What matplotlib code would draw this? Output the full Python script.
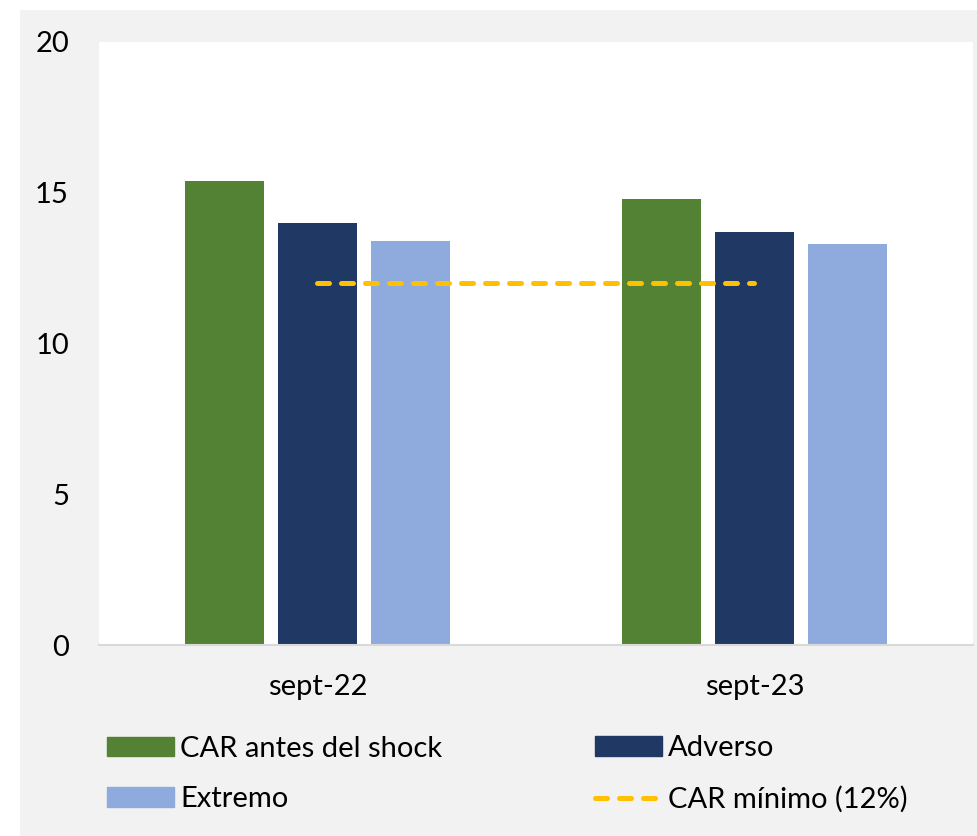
import matplotlib
matplotlib.use("Agg")
import matplotlib.pyplot as plt
from matplotlib.patches import Rectangle, Patch
from matplotlib.lines import Line2D
import numpy as np

plt.rcParams["font.family"] = ["Lato", "DejaVu Sans"]

categorias = ["sept-22", "sept-23"]
car_antes = [15.4, 14.8]
adverso = [14.0, 13.7]
extremo = [13.4, 13.3]
car_minimo = 12

series = ["CAR antes del shock", "Adverso", "Extremo"]
colores = ["#548235", "#203864", "#8faadc"]
amarillo = "#ffc000"
fs = 21

fig = plt.figure(figsize=(9.78, 8.36), dpi=100, facecolor="white")

# fondo gris del gráfico
fig.patches.append(Rectangle((20 / 978, 0), 1, 1 - 10 / 836, transform=fig.transFigure,
                             facecolor="#f2f2f2", edgecolor="none", zorder=-10))

ax = fig.add_axes([99 / 978, 1 - 645 / 836, 874 / 978, 603 / 836])
ax.set_facecolor("white")

x = np.arange(len(categorias))
paso = 0.213
ancho = 0.181
for i, (vals, col) in enumerate(zip([car_antes, adverso, extremo], colores)):
    ax.bar(x + (i - 1) * paso, vals, width=ancho, color=col, zorder=2)

estilo_linea = dict(color=amarillo, lw=3.6, linestyle=(0, (2.4, 2.4)), dash_capstyle="round")
ax.plot(x, [car_minimo] * len(x), zorder=3, **estilo_linea)

ax.set_xlim(-0.5, 1.5)
ax.set_ylim(0, 20)
ax.set_yticks([0, 5, 10, 15, 20])
ax.set_xticks(x)
ax.set_xticklabels(categorias)
ax.tick_params(axis="y", length=0, labelsize=fs, pad=21.6)
ax.tick_params(axis="x", length=0, labelsize=fs, pad=21)
for s in ["top", "left", "right"]:
    ax.spines[s].set_visible(False)
ax.spines["bottom"].set_color("#d9d9d9")
ax.spines["bottom"].set_linewidth(1.5)

ley_kw = dict(loc="center left", frameon=False, fontsize=fs, borderpad=0, borderaxespad=0,
              handlelength=2.31, handleheight=0.65, handletextpad=0.2, labelspacing=0.83)
h1 = [Patch(color=colores[0]), Patch(color=colores[2])]
fig.legend(h1, [series[0], series[2]], bbox_to_anchor=(107 / 978, 1 - 774 / 836), **ley_kw)
h2 = [Patch(color=colores[1]), Line2D([], [], **estilo_linea)]
fig.legend(h2, [series[1], "CAR mínimo (12%)"], bbox_to_anchor=(595 / 978, 1 - 774 / 836), **ley_kw)

fig.savefig("out.png", dpi=100)
